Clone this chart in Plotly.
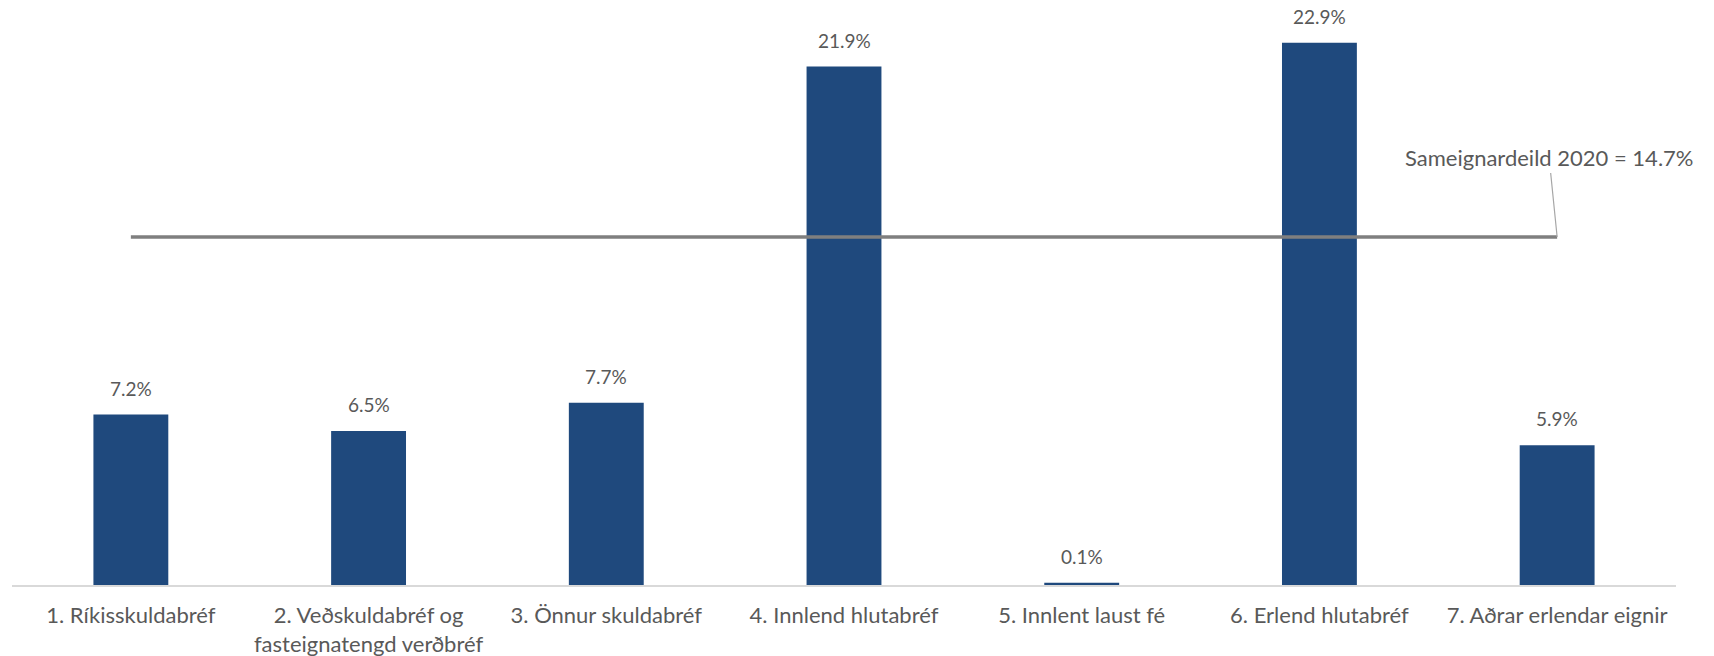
import plotly.graph_objects as go

categories = [
    "1. Ríkisskuldabréf",
    "2. Veðskuldabréf og<br>fasteignatengd verðbréf",
    "3. Önnur skuldabréf",
    "4. Innlend hlutabréf",
    "5. Innlent laust fé",
    "6. Erlend hlutabréf",
    "7. Aðrar erlendar eignir",
]
values = [7.2, 6.5, 7.7, 21.9, 0.1, 22.9, 5.9]
value_labels = ["7.2%", "6.5%", "7.7%", "21.9%", "0.1%", "22.9%", "5.9%"]
benchmark_value = 14.7
benchmark_line = [14.7, 14.7, 14.7, 14.7, 14.7, 14.7, 14.7]
benchmark_label = "Sameignardeild 2020 = 14.7%"

FONT = "Lato"
TXT = "#595959"

fig = go.Figure()
fig.add_trace(go.Bar(
    x=categories, y=values, marker=dict(color="#1F497D", line=dict(width=0)),
    width=0.315, hoverinfo="skip",
))
fig.add_trace(go.Scatter(
    x=categories, y=benchmark_line, mode="lines",
    line=dict(color="#7F7F7F", width=3.5), hoverinfo="skip",
))

for c, v, t in zip(categories, values, value_labels):
    fig.add_annotation(x=c, y=v, text=t, showarrow=False, yanchor="bottom",
                       yshift=13, font=dict(family=FONT, size=19, color=TXT))

fig.add_annotation(x=categories[-1], y=benchmark_value, text=benchmark_label,
                   showarrow=True, arrowhead=0, arrowwidth=1.2, arrowcolor="#A6A6A6",
                   ax=-8, ay=-79, font=dict(family=FONT, size=22, color=TXT))

fig.update_layout(
    width=1714, height=656,
    margin=dict(l=12, r=38, t=0, b=71),
    paper_bgcolor="white", plot_bgcolor="white",
    showlegend=False,
    xaxis=dict(range=[-0.5, 6.5], autorange=False, automargin=False,
               showline=True, linecolor="#D9D9D9", linewidth=1.5,
               ticks="outside", ticklen=10, tickcolor="rgba(0,0,0,0)",
               tickfont=dict(family=FONT, size=22, color=TXT),
               showgrid=False, zeroline=False),
    yaxis=dict(range=[0, 24.71], autorange=False, visible=False,
               showgrid=False, zeroline=False),
)

fig.write_html("out.html", config={"displayModeBar": False},
               post_script="document.body.style.margin='0';")
